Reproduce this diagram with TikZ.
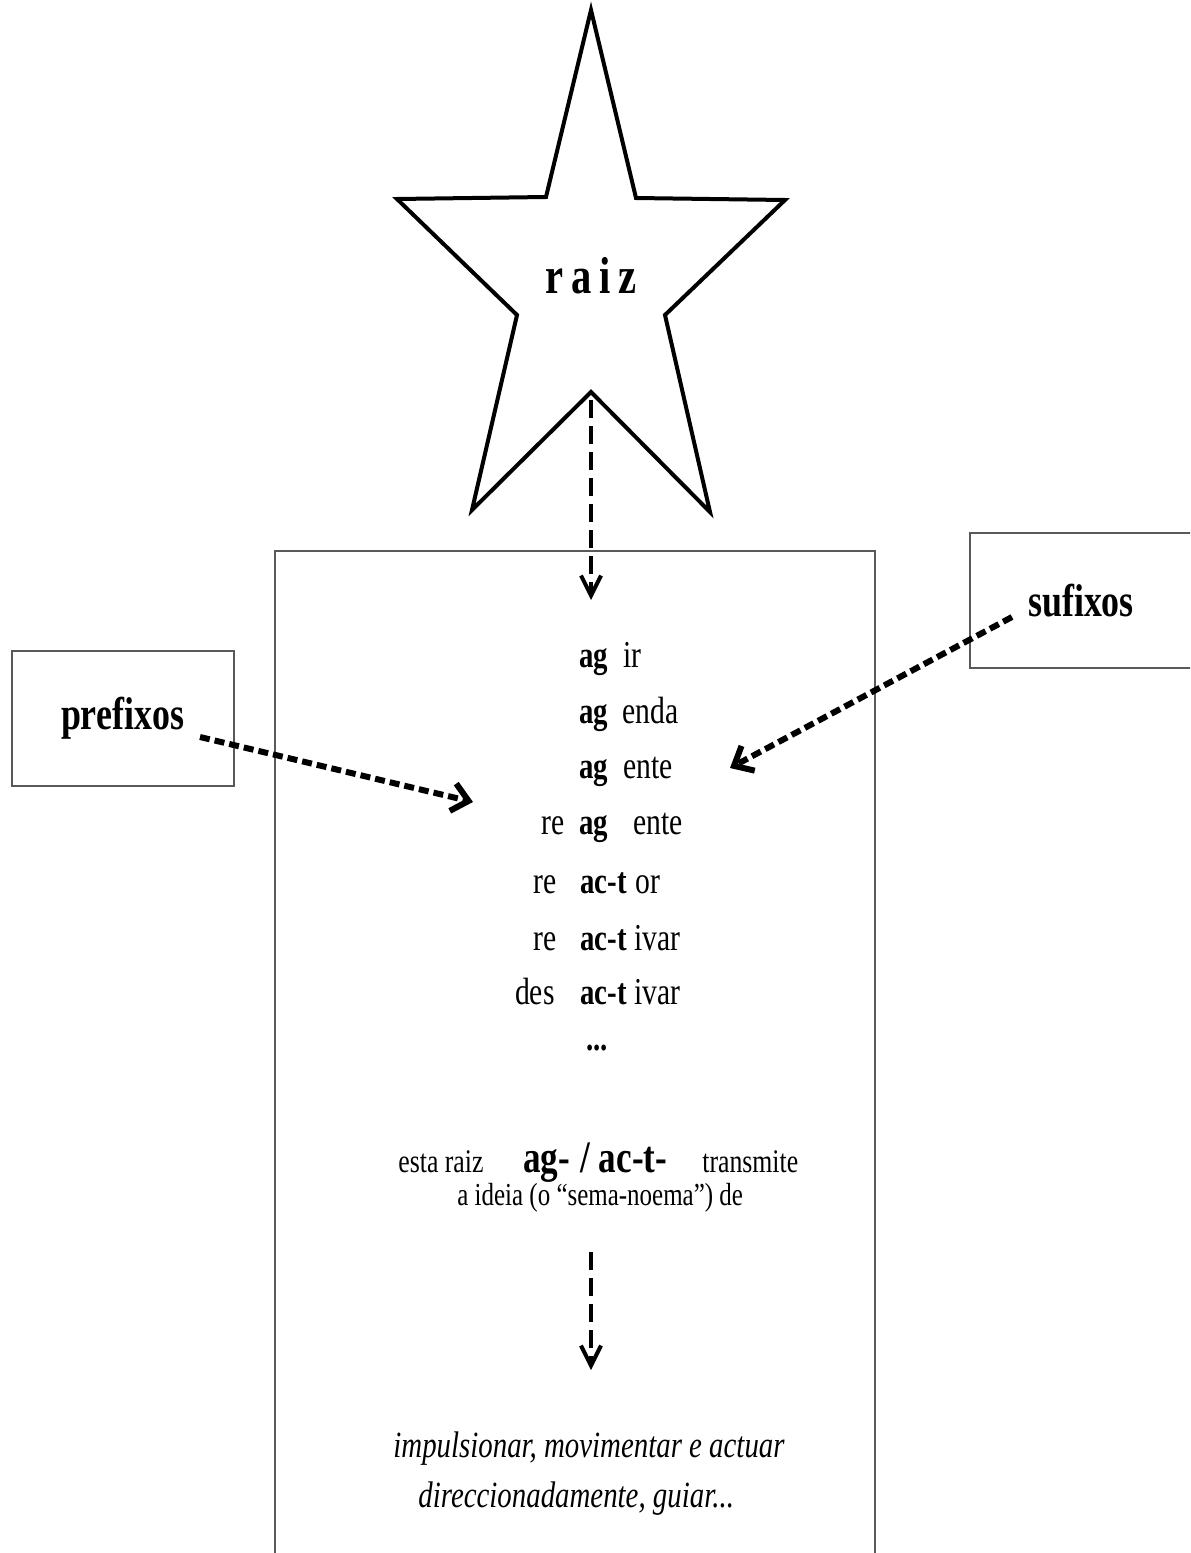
\documentclass[tikz,border=0pt]{standalone}
\usepackage{fontspec}
\setmainfont{Liberation Serif}[FakeStretch=0.78]
\usetikzlibrary{arrows.meta}

\tikzset{
  wordbox/.style={draw=black!65, line width=1pt, minimum width=111pt, minimum height=67.5pt, inner sep=0pt, font=\bfseries\fontsize{23}{26}\selectfont},
  dasharrow/.style={dash pattern=on 9pt off 4pt, line width=2pt, -{Straight Barb[length=10pt,width=10pt]}},
  thickarrow/.style={dash pattern=on 5pt off 2.5pt, line width=3pt, -{Straight Barb[length=8pt,width=14pt]}},
  preword/.style={anchor=base east, inner sep=0pt, font=\fontsize{19}{22}\selectfont},
  rootword/.style={anchor=base west, inner sep=0pt, font=\bfseries\fontsize{18.5}{22}\selectfont},
  sufword/.style={anchor=base west, inner sep=0pt, font=\fontsize{19}{22}\selectfont},
  gloss/.style={anchor=base west, inner sep=0pt, font=\fontsize{16.5}{20}\selectfont},
  sense/.style={anchor=base west, inner sep=0pt, font=\itshape\fontsize{18.5}{22}\selectfont}
}

\begin{document}
\begin{tikzpicture}[x=0.5pt, y=-0.5pt]
    \useasboundingbox (0,0) rectangle (1190,1553);
    \clip (0,0) rectangle (1190,1553);

    % the star of the root
    \draw [line width=2pt, line join=miter] (591,10) -- (636,198) -- (785,200) -- (665,315) -- (710,512)
        -- (591,392) -- (472,510) -- (517,315) -- (397,199) -- (546,197) -- cycle;
    \node [anchor=base, inner sep=0pt, font=\bfseries\fontsize{26}{30}\selectfont] (raiz) at (591,293)
        {r\hspace{4pt}a\hspace{4pt}i\hspace{4pt}z};

    % frame and side boxes
    \node [draw=black!65, line width=1pt, minimum width=300pt, minimum height=550pt] (frame) at (575,1101) {};
    \node [wordbox] (pre) at (122.5,718) {prefixos};
    \node [wordbox] (suf) at (1081,600.5) {sufixos};

    % words of the family
    \node [rootword] (r1) at (579,667) {ag};
    \node [sufword] (s1) at (623,667) {ir};
    \node [rootword] (r2) at (579,723) {ag};
    \node [sufword] (s2) at (622,723) {enda};
    \node [rootword] (r3) at (579,778) {ag};
    \node [sufword] (s3) at (623,778) {ente};
    \node [preword] (p4) at (565,834) {re};
    \node [rootword] (r4) at (579,834) {ag};
    \node [sufword] (s4) at (633,834) {ente};
    \node [preword] (p5) at (557,893) {re};
    \node [rootword] (r5) at (580,893) {ac-t};
    \node [sufword] (s5) at (635,893) {or};
    \node [preword] (p6) at (557,950) {re};
    \node [rootword] (r6) at (580,950) {ac-t};
    \node [sufword] (s6) at (634,950) {ivar};
    \node [preword] (p7) at (555,1004) {des};
    \node [rootword] (r7) at (580,1004) {ac-t};
    \node [sufword] (s7) at (634,1004) {ivar};
    \node [rootword] (dots) at (586,1050) {...};

    % what the root carries
    \node [gloss] (esta) at (398,1172) {esta raiz};
    \node [gloss, font=\bfseries\fontsize{22.5}{26}\selectfont] (agr) at (523,1172) {ag-};
    \node [gloss, font=\bfseries\fontsize{22.5}{26}\selectfont] (actr) at (580,1172) {/ ac-t-};
    \node [gloss] (transm) at (702,1172) {transmite};
    \node [gloss, font=\fontsize{16}{20}\selectfont] (ideia) at (457,1205) {a ideia (o “sema-noema”) de};
    \node [sense] (sense1) at (393,1457) {impulsionar, movimentar e actuar};
    \node [sense] (sense2) at (418,1507) {direccionadamente, guiar...};

    % arrows
    \coordinate (starfoot) at (591,400);
    \coordinate (listtop) at (591,600);
    \coordinate (meanfrom) at (591,1252);
    \coordinate (meanto) at (591,1370);
    \coordinate (pretip) at (473,802);
    \coordinate (suftip) at (730,768);

    \draw [dasharrow] (starfoot) -- (listtop);
    \draw [dasharrow] (meanfrom) -- (meanto);
    \draw [thickarrow] ([shift={(77.5,19)}]pre.center) -- (pretip);
    \draw [thickarrow] ([shift={(-69,16.5)}]suf.center) -- (suftip);
\end{tikzpicture}
\end{document}
